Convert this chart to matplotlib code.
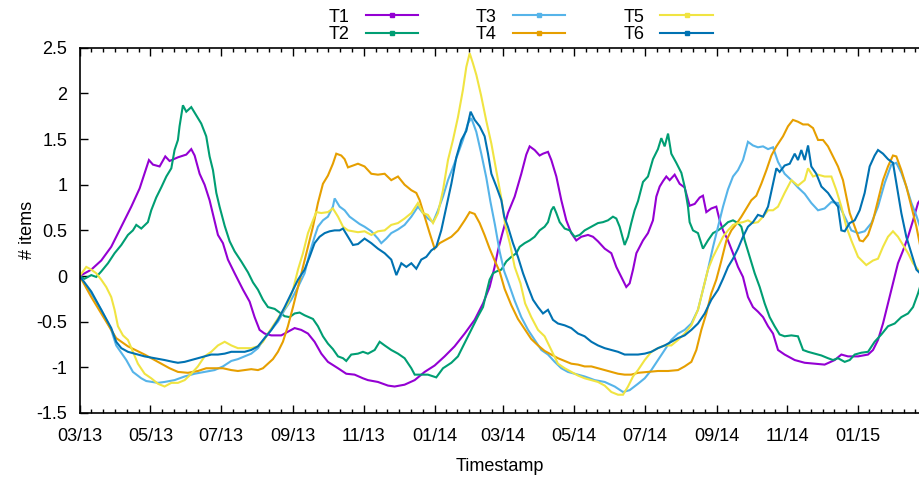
import datetime as dt
import matplotlib
matplotlib.use("Agg")
import matplotlib.pyplot as plt
import matplotlib.dates as mdates
from matplotlib.lines import Line2D
from matplotlib.ticker import FixedLocator, FuncFormatter, MultipleLocator

# day offsets from 2013-03-01 and the values
t1_day = [0, 10, 18.6, 27.2, 35.9, 44.5, 51.7, 59.7, 63.2, 68.9, 73.8, 77.5, 84.7, 91.9, 96.2, 99.1,
          103.4, 107.7, 112, 116, 119.2, 123.5, 127.8, 133.6, 140.8, 146.5, 150.8, 155.1, 159.4, 165.2,
          173.8, 179.5, 185.3, 191, 196.8, 202.5, 208.3, 214, 222.7, 229.8, 237, 244.2, 248.5, 257.1,
          265.8, 271.5, 280.1, 288.8, 297.4, 306, 314.6, 323.2, 331.9, 340.5, 347.7, 353.4, 357.7, 360.6,
          364, 369.2, 375, 380.7, 385, 387.9, 392.2, 396.5, 399.4, 403.7, 406.6, 410.9, 415.2, 419.5,
          423.8, 428.1, 432.4, 438.2, 442.5, 446.8, 452.6, 458.3, 462.6, 466.9, 471.2, 474.1, 477, 479.9,
          485.6, 489.9, 494.2, 497.1, 500, 502.9, 505.7, 508.6, 512.9, 517.2, 521.5, 525.8, 530.2, 534.5,
          537.3, 540.2, 544.5, 548.8, 551.7, 554.6, 558.9, 563.2, 567.5, 571.8, 576.1, 580.4, 584.7,
          589.1, 593.4, 597.7, 602, 607.7, 616.4, 625, 633.6, 642.2, 650.9, 656.6, 662.3, 671, 679.6,
          683.9, 688.2, 692.5, 696.8, 701.1, 705.4, 709.8, 714.1, 718.4, 722.7, 724.4]
t1_val = [0, 0.07, 0.17, 0.32, 0.54, 0.76, 0.96, 1.27, 1.22, 1.20, 1.31, 1.26, 1.30, 1.33, 1.39, 1.32,
          1.12, 1.00, 0.83, 0.62, 0.45, 0.36, 0.18, 0.03, -0.15, -0.28, -0.45, -0.59, -0.63, -0.65,
          -0.65, -0.61, -0.57, -0.59, -0.63, -0.72, -0.85, -0.94, -1.01, -1.07, -1.08, -1.12, -1.14, -1.16,
          -1.20, -1.21, -1.19, -1.14, -1.05, -0.98, -0.88, -0.77, -0.63, -0.48, -0.30, -0.12, 0.10, 0.28,
          0.45, 0.69, 0.87, 1.12, 1.33, 1.42, 1.38, 1.32, 1.34, 1.36, 1.27, 1.09, 0.83, 0.61,
          0.47, 0.39, 0.43, 0.45, 0.43, 0.38, 0.30, 0.25, 0.10, -0.01, -0.12, -0.08, 0.07, 0.25,
          0.39, 0.47, 0.61, 0.87, 0.98, 1.04, 1.09, 1.05, 1.11, 1.01, 0.97, 0.77, 0.79, 0.86,
          0.88, 0.70, 0.74, 0.76, 0.61, 0.50, 0.39, 0.25, 0.10, -0.01, -0.23, -0.34, -0.39,
          -0.45, -0.55, -0.63, -0.81, -0.86, -0.92, -0.95, -0.96, -0.97, -0.92, -0.86, -0.88, -0.88, -0.86,
          -0.81, -0.70, -0.52, -0.30, -0.08, 0.14, 0.28, 0.43, 0.61, 0.80, 0.83]

t2_day = [0, 4.2, 10, 14.3, 18.6, 24.4, 30.1, 35.9, 41.6, 45.9, 48.8, 53.1, 58.8, 61.7, 66, 70.3, 74.7,
          79, 81.8, 84.7, 86.1, 89, 91.9, 96.2, 100.5, 104.8, 109.1, 112, 114.9, 117.8, 120.6, 125,
          129.3, 133.6, 139.3, 145.1, 149.4, 153.7, 158, 162.3, 168.1, 172.4, 176.7, 181, 185.3, 189.6,
          193.9, 201.1, 205.4, 209.7, 214, 218.3, 222.7, 227, 229.8, 234.1, 239.9, 244.2, 248.5, 254.3,
          258.6, 262.9, 268.6, 274.4, 280.1, 285.9, 288.8, 294.5, 300.2, 307.4, 313.2, 320.4, 326.1,
          330.4, 334.7, 339, 343.4, 347.7, 350.5, 353.4, 356.3, 359.2, 363.5, 367.8, 372.1, 376.4, 379.3,
          383.6, 387.9, 392.2, 396.5, 400.8, 403.7, 406.6, 408.6, 410.9, 413.8, 418.1, 422.4, 426.7, 431,
          435.3, 441.1, 446.8, 451.1, 455.4, 459.7, 462.6, 465.5, 469.8, 472.7, 475.5, 478.4, 481.3,
          485.6, 489.9, 494.2, 498.5, 501.4, 504.3, 507.2, 510, 514.3, 518.7, 521.5, 524.4, 525.8, 528.7,
          533, 537.3, 541.6, 546, 550.3, 554.6, 558.9, 563.2, 567.5, 570.4, 573.3, 577.6, 581.9, 586.2,
          590.5, 594.8, 599.1, 603.4, 607.7, 613.5, 619.2, 623.6, 627.9, 633.6, 639.4, 645.1, 649.4,
          653.7, 659.5, 663.8, 668.1, 673.8, 679.6, 685.3, 691.1, 696.8, 702.6, 708.3, 714.1, 718.4,
          722.7, 724.4]
t2_val = [0, -0.03, 0.01, -0.01, 0.05, 0.14, 0.25, 0.34, 0.45, 0.50, 0.56, 0.52, 0.59, 0.72, 0.86, 0.97, 1.09,
          1.18, 1.38, 1.49, 1.64, 1.87, 1.80, 1.85, 1.76, 1.67, 1.53, 1.31, 1.16, 0.91, 0.76, 0.55,
          0.38, 0.27, 0.16, 0.04, -0.07, -0.15, -0.26, -0.34, -0.36, -0.40, -0.44, -0.45, -0.41, -0.40,
          -0.43, -0.47, -0.55, -0.66, -0.74, -0.80, -0.88, -0.90, -0.93, -0.86, -0.85, -0.83, -0.85, -0.81,
          -0.72, -0.76, -0.81, -0.85, -0.90, -1.01, -1.08, -1.08, -1.08, -1.11, -1.01, -0.95, -0.88,
          -0.77, -0.66, -0.55, -0.44, -0.34, -0.19, -0.04, 0.03, 0.05, 0.07, 0.16, 0.21, 0.25, 0.32,
          0.36, 0.39, 0.43, 0.50, 0.54, 0.59, 0.72, 0.76, 0.69, 0.59, 0.52, 0.50, 0.43, 0.45,
          0.50, 0.54, 0.58, 0.59, 0.61, 0.65, 0.63, 0.54, 0.34, 0.43, 0.58, 0.72, 0.82,
          1.03, 1.09, 1.28, 1.39, 1.51, 1.42, 1.56, 1.34, 1.24, 1.13, 0.98, 0.76, 0.59, 0.50,
          0.47, 0.30, 0.39, 0.47, 0.50, 0.54, 0.59, 0.61, 0.58, 0.54, 0.39, 0.21, 0.03, -0.12,
          -0.30, -0.45, -0.55, -0.64, -0.66, -0.65, -0.66, -0.81, -0.83, -0.85, -0.87, -0.90, -0.92,
          -0.90, -0.94, -0.92, -0.86, -0.84, -0.83, -0.72, -0.64, -0.55, -0.52, -0.45, -0.41, -0.34,
          -0.19, -0.12]

t3_day = [0, 10, 18.6, 27.2, 31.5, 40.2, 45.9, 53.1, 57.4, 67.5, 73.2, 81.8, 90.5, 99.1, 107.7, 116.3,
          123.5, 130.7, 136.4, 142.2, 147.9, 153.7, 159.4, 165.2, 170.9, 176.7, 182.4, 188.2, 193.9,
          198.2, 202.5, 205.4, 209.7, 214, 218.3, 219.8, 224.1, 228.4, 232.7, 237, 241.3, 245.6, 251.4,
          257.1, 260, 264.3, 268.6, 274.4, 280.1, 285.9, 291.6, 295.9, 300.2, 304.6, 308.9, 313.2, 317.5,
          321.8, 326.1, 330.4, 334.7, 337.6, 341.9, 346.2, 350.5, 354, 358, 362, 366, 369.2, 375, 380.7,
          386.5, 392.2, 398, 403.7, 409.5, 415.2, 420.9, 426.7, 435.3, 444, 452.6, 461.2, 468.4, 474.1,
          481.3, 487.1, 492.8, 498.5, 504.3, 510, 515.8, 521.5, 527.3, 533, 537.3, 541.6, 546, 550.3,
          554.6, 558.9, 563.2, 567.5, 571.8, 576.1, 580.4, 584.7, 589.1, 593.4, 597.7, 602, 607.7, 613.5,
          619.2, 625, 630.7, 636.5, 642.2, 648, 653.7, 659.5, 665.2, 671, 676.7, 682.5, 688.2, 694, 699.7,
          704, 708.3, 712.6, 717, 721.3, 724.4]
t3_val = [0, -0.19, -0.37, -0.59, -0.76, -0.92, -1.05, -1.12, -1.15, -1.17, -1.16, -1.14, -1.10, -1.07, -1.05, -1.03,
          -0.99, -0.93, -0.91, -0.88, -0.85, -0.79, -0.68, -0.59, -0.50, -0.37, -0.26, -0.12, 0.03,
          0.25, 0.43, 0.54, 0.61, 0.65, 0.76, 0.85, 0.76, 0.72, 0.65, 0.61, 0.57, 0.54, 0.49,
          0.41, 0.36, 0.41, 0.47, 0.51, 0.56, 0.65, 0.76, 0.69, 0.63, 0.59, 0.72, 0.87, 1.05,
          1.19, 1.34, 1.49, 1.67, 1.73, 1.58, 1.34, 1.08, 0.82, 0.56, 0.27, 0.05, -0.06, -0.27, -0.45,
          -0.59, -0.70, -0.81, -0.86, -0.94, -1.01, -1.05, -1.07, -1.10, -1.14, -1.16, -1.21, -1.27, -1.25,
          -1.18, -1.12, -1.03, -0.92, -0.81, -0.70, -0.63, -0.59, -0.52, -0.37, -0.15, 0.07, 0.32, 0.54,
          0.76, 0.95, 1.09, 1.16, 1.27, 1.47, 1.43, 1.41, 1.42, 1.39, 1.41, 1.25, 1.12, 1.05,
          0.97, 0.90, 0.80, 0.72, 0.74, 0.81, 0.80, 0.65, 0.50, 0.47, 0.49, 0.58, 0.76, 1.02, 1.22,
          1.24, 1.13, 0.98, 0.80, 0.66, 0.54]

t4_day = [0, 10, 18.6, 27.2, 31.5, 41.6, 56, 67.5, 77.5, 84.7, 93.3, 101.9, 109.1, 116.3, 123.5, 130.7,
          136.4, 142.2, 147.9, 153.7, 158, 162.3, 166.6, 170.9, 175.2, 179.5, 183.9, 188.2, 192.5, 196.8,
          201.1, 205.4, 209.7, 214, 218.3, 221.2, 225.5, 228.4, 231.3, 235.6, 239.9, 245.6, 251.4, 257.1,
          262.9, 268.6, 274.4, 280.1, 285.9, 290.2, 293.1, 297.4, 301.7, 306, 310.3, 314.6, 320.4, 326.1,
          331.9, 336.2, 340.5, 344.8, 349, 353.4, 357.7, 362, 366.3, 372.1, 377.8, 383.6, 389.3, 395.1,
          400.8, 406.6, 412.3, 418.1, 423.8, 429.6, 435.3, 441.1, 446.8, 452.6, 458.3, 464.1, 469.8,
          475.5, 481.3, 489.9, 498.5, 507.2, 515.8, 521.5, 527.3, 531.6, 535.9, 540.2, 544.5, 548.8,
          553.2, 557.5, 561.8, 566.1, 570.4, 574.7, 579, 583.3, 587.6, 592, 596.3, 600.6, 606.3, 610.6,
          614.9, 619.2, 623.6, 627.9, 632.2, 636.5, 640.8, 645.1, 649.4, 653.7, 658, 660.9, 663.8, 668.1,
          672.4, 675.3, 679.6, 683.9, 688.2, 692.5, 696.8, 701.1, 704, 708.3, 712.6, 717, 721.3, 724.4]
t4_val = [0, -0.23, -0.41, -0.59, -0.68, -0.77, -0.86, -0.94, -1.01, -1.05, -1.06, -1.04, -1.01, -1.01, -1.01, -1.03,
          -1.04, -1.03, -1.02, -1.03, -1.01, -0.96, -0.91, -0.83, -0.72, -0.55, -0.34, -0.12, 0.10, 0.32,
          0.54, 0.80, 1.01, 1.10, 1.23, 1.34, 1.32, 1.28, 1.19, 1.21, 1.23, 1.20, 1.12, 1.11,
          1.12, 1.05, 1.09, 1.00, 0.94, 0.91, 0.83, 0.65, 0.47, 0.30, 0.36, 0.39, 0.43, 0.50,
          0.61, 0.70, 0.68, 0.58, 0.45, 0.30, 0.17, 0.05, -0.14, -0.32, -0.47, -0.58, -0.69, -0.76,
          -0.82, -0.86, -0.90, -0.93, -0.96, -0.97, -0.99, -0.99, -1.01, -1.03, -1.05, -1.07, -1.08,
          -1.08, -1.06, -1.05, -1.04, -1.04, -1.03, -0.99, -0.94, -0.81, -0.59, -0.41, -0.19, -0.04,
          0.17, 0.39, 0.50, 0.57, 0.65, 0.74, 0.83, 0.88, 1.01, 1.16, 1.32, 1.42, 1.53, 1.64,
          1.71, 1.69, 1.66, 1.66, 1.62, 1.49, 1.49, 1.42, 1.31, 1.20, 1.05, 0.87, 0.69, 0.54,
          0.39, 0.38, 0.45, 0.61, 0.83, 1.05, 1.20, 1.32, 1.31, 1.16, 0.98, 0.76, 0.54, 0.34]

t5_day = [0, 5.7, 10, 14.3, 18.6, 22.9, 27.2, 30.1, 33, 37.3, 41.6, 45.9, 50.2, 56, 61.7, 67.5, 73.2,
          79, 84.7, 90.5, 96.2, 101.9, 107.7, 113.4, 119.2, 125, 130.7, 136.4, 142.2, 147.9, 153.7, 158,
          162.3, 168.1, 173.8, 179.5, 183.9, 188.2, 192.5, 196.8, 201.1, 204, 208.3, 214, 218.3, 222.7,
          227, 231.3, 235.6, 239.9, 245.6, 251.4, 257.1, 262.9, 268.6, 274.4, 280.1, 285.9, 291.6, 295.9,
          300.2, 304.6, 308.9, 313.2, 317.5, 321.8, 326.1, 330.4, 333.3, 336.2, 339, 342, 346, 350.5,
          354.9, 359.2, 363.5, 367, 371, 375, 380, 384, 389.3, 395.1, 400.8, 406.6, 412.3, 418.1, 423.8,
          429.6, 435.3, 441.1, 446.8, 452.6, 458.3, 464.1, 468.4, 472.7, 477, 481.3, 487.1, 492.8,
          498.5, 504.3, 510, 515.8, 521.5, 527.3, 533, 537.3, 541.6, 546, 550.3, 554.6, 558.9, 563.2,
          567.5, 571.8, 576.1, 580.4, 584.7, 589.1, 593.4, 597.7, 602, 607.7, 613.5, 619.2, 625, 627.9,
          632.2, 636.5, 642.2, 648, 652.3, 656.6, 660.9, 665.2, 671, 678.1, 683.9, 688.2, 692.5, 696.8,
          701.1, 705.4, 709.8, 714.1, 718.4, 722.7, 724.4]
t5_val = [0, 0.10, 0.07, 0.03, -0.04, -0.12, -0.23, -0.37, -0.55, -0.65, -0.70, -0.83, -0.96, -1.07, -1.12, -1.18, -1.21,
          -1.17, -1.17, -1.14, -1.07, -0.99, -0.88, -0.83, -0.76, -0.72, -0.76, -0.79, -0.79, -0.79, -0.77, -0.72,
          -0.63, -0.52, -0.41, -0.30, -0.15, 0.07, 0.25, 0.47, 0.61, 0.70, 0.69, 0.70, 0.74, 0.65,
          0.54, 0.50, 0.49, 0.48, 0.49, 0.45, 0.49, 0.50, 0.56, 0.58, 0.63, 0.69, 0.80, 0.69,
          0.67, 0.58, 0.69, 0.94, 1.27, 1.49, 1.74, 2.04, 2.29, 2.44, 2.33, 2.20, 1.98, 1.70,
          1.45, 1.15, 0.85, 0.55, 0.35, 0.10, -0.08, -0.30, -0.45, -0.59, -0.66, -0.81, -0.96, -1.01, -1.05,
          -1.09, -1.12, -1.14, -1.16, -1.20, -1.27, -1.30, -1.30, -1.21, -1.10, -1.03, -0.92, -0.83,
          -0.79, -0.76, -0.76, -0.70, -0.63, -0.54, -0.37, -0.15, 0.07, 0.21, 0.32, 0.43, 0.50, 0.56,
          0.58, 0.59, 0.61, 0.58, 0.59, 0.65, 0.72, 0.72, 0.76, 0.91, 1.05, 0.99, 1.05, 1.18,
          1.09, 1.11, 1.09, 1.09, 0.94, 0.76, 0.54, 0.39, 0.21, 0.12, 0.17, 0.19, 0.32, 0.43,
          0.49, 0.43, 0.34, 0.25, 0.14, 0.07, 0.05]

t6_day = [0, 10, 18.6, 27.2, 31.5, 35.9, 41.6, 47.3, 56, 64.6, 73.2, 80.4, 84.7, 90.5, 96.2, 101.9,
          107.7, 113.4, 119.2, 125, 130.7, 136.4, 142.2, 147.9, 153.7, 159.4, 165.2, 170.9, 176.7, 182.4,
          188.2, 193.9, 198.2, 202.5, 206.8, 211.2, 215.5, 219.8, 224.1, 227, 231.3, 235.6, 239.9, 245.6,
          251.4, 257.1, 262.9, 268.6, 273, 277.3, 281.6, 285.9, 290.2, 294.5, 298.8, 303.1, 307.4, 311.7,
          316.1, 320.4, 324.7, 329, 333.3, 337, 340.5, 344.8, 349.1, 352, 354.9, 359.2, 363.5, 366,
          369.2, 373.5, 377.8, 382.2, 386.5, 390.8, 395.1, 399.4, 403.7, 408, 412.3, 418.1, 423.8, 429.6,
          435.3, 441.1, 446.8, 452.6, 458.3, 464.1, 469.8, 475.5, 481.3, 487.1, 492.8, 498.5, 504.3, 510,
          515.8, 521.5, 527.3, 533, 538.8, 544.5, 550.3, 554.6, 558.9, 563.2, 567.5, 571.8, 576.1, 580.4,
          584.7, 589.1, 593.4, 597.7, 600.6, 603.4, 607.7, 612.1, 616.4, 619.2, 622.1, 625, 627.9, 630.7,
          635, 639.4, 645.1, 649.4, 653.7, 656.6, 659.5, 663.8, 668.1, 672.4, 676.7, 681, 685.3, 688.2,
          692.5, 696.8, 701.1, 704, 708.3, 712.6, 717, 721.3, 724.4]
t6_val = [0, -0.17, -0.37, -0.57, -0.72, -0.79, -0.83, -0.85, -0.88, -0.90, -0.92, -0.94, -0.95, -0.94, -0.92, -0.90,
          -0.88, -0.86, -0.86, -0.85, -0.83, -0.83, -0.83, -0.81, -0.77, -0.68, -0.59, -0.48, -0.34, -0.19,
          -0.04, 0.07, 0.21, 0.36, 0.43, 0.47, 0.49, 0.50, 0.50, 0.52, 0.43, 0.34, 0.35, 0.41,
          0.36, 0.30, 0.25, 0.18, 0.01, 0.14, 0.10, 0.14, 0.08, 0.18, 0.21, 0.28, 0.32, 0.50,
          0.76, 1.01, 1.30, 1.49, 1.59, 1.80, 1.71, 1.64, 1.53, 1.34, 1.12, 0.98, 0.83, 0.65,
          0.54, 0.36, 0.21, 0.03, -0.12, -0.26, -0.34, -0.41, -0.37, -0.48, -0.52, -0.54, -0.57, -0.63,
          -0.66, -0.72, -0.76, -0.79, -0.81, -0.83, -0.86, -0.86, -0.86, -0.85, -0.83, -0.79, -0.76, -0.72,
          -0.68, -0.65, -0.59, -0.52, -0.41, -0.26, -0.15, -0.03, 0.10, 0.19, 0.30, 0.43, 0.54, 0.59,
          0.67, 0.65, 0.76, 1.01, 1.18, 1.14, 1.21, 1.23, 1.34, 1.27, 1.38, 1.27, 1.43, 1.20,
          1.12, 0.98, 0.91, 0.83, 0.76, 0.50, 0.49, 0.58, 0.61, 0.72, 0.91, 1.20, 1.32, 1.38,
          1.34, 1.28, 1.24, 1.02, 0.69, 0.43, 0.25, 0.07, 0.03]

names = ["T1", "T2", "T3", "T4", "T5", "T6"]
colors = ["#9400d3", "#009e73", "#56b4e9", "#e69f00", "#f0e442", "#0072b2"]
series = [(t1_day, t1_val), (t2_day, t2_val), (t3_day, t3_val),
          (t4_day, t4_val), (t5_day, t5_val), (t6_day, t6_val)]

start = dt.datetime(2013, 3, 1)
x0 = mdates.date2num(start)
x_end = 724.4

plt.rcParams["font.family"] = ["Liberation Sans", "DejaVu Sans"]
plt.rcParams["axes.unicode_minus"] = False
plt.rcParams["font.size"] = 13

fig = plt.figure(figsize=(9.2, 4.8), dpi=100)
ax = fig.add_axes([0.0866, 0.1396, 0.9134, 0.7609])

for (days, vals), c in zip(series, colors):
    ax.plot([x0 + d for d in days], vals, color=c, lw=1.5, solid_joinstyle="miter")

ax.set_xlim(x0, x0 + x_end)
ax.set_ylim(-1.5, 2.5)

ax.xaxis_date()
ax.xaxis.set_major_locator(mdates.MonthLocator(bymonth=(1, 3, 5, 7, 9, 11)))
ax.xaxis.set_major_formatter(mdates.DateFormatter("%m/%y"))

# 5 minor ticks between the two-month majors
majors = [mdates.date2num(dt.datetime(2013 + (m - 1) // 12, (m - 1) % 12 + 1, 1))
          for m in range(3, 3 + 26, 2)]
minors = []
for a, b in zip(majors[:-1], majors[1:]):
    minors += [a + (b - a) * k / 6 for k in range(1, 6)]
ax.xaxis.set_minor_locator(FixedLocator(minors))

ax.yaxis.set_major_locator(MultipleLocator(0.5))
ax.yaxis.set_major_formatter(FuncFormatter(lambda v, p: "%g" % v))

ax.tick_params(axis="both", which="both", direction="in", top=True, right=False, width=1.0)
ax.tick_params(axis="x", which="major", length=6, pad=11)
ax.tick_params(axis="x", which="minor", length=3)
ax.tick_params(axis="y", which="major", length=6, pad=9)
for side in ["left", "bottom", "top"]:
    ax.spines[side].set_linewidth(1.2)
ax.spines["right"].set_visible(False)

ax.set_xlabel("Timestamp", labelpad=9)
ax.set_ylabel("# items", labelpad=0)

handles = [Line2D([], [], color=c, lw=1.5, marker="s", markersize=2.5) for c in colors]
fig.legend(handles, names, loc="upper center", bbox_to_anchor=(0.566, 1.008), ncol=3,
           frameon=False, markerfirst=False, handlelength=2.9, handletextpad=0.9,
           columnspacing=3.2, labelspacing=0.02, borderpad=0.2, numpoints=1)

fig.savefig("out.png", dpi=100)
